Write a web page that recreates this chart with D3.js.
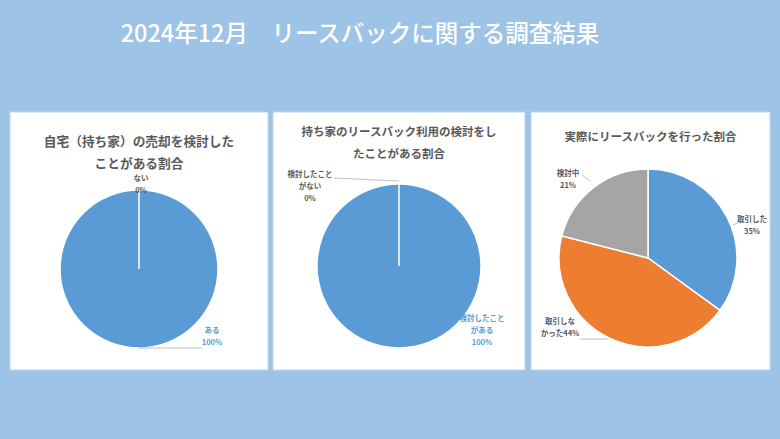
<!DOCTYPE html>
<html lang="ja">
<head>
    <meta charset="UTF-8">
    <title>2024年12月 リースバックに関する調査結果</title>
    <script src="https://d3js.org/d3.v7.min.js"></script>
    <style>
        html, body { margin: 0; padding: 0; background: #9dc3e6; }
        body { font-family: "Noto Sans CJK JP", "Noto Sans", sans-serif; }
    </style>
</head>
<body>
    <div id="chart"></div>
    <script>
        // data
        const mainTitle = "2024年12月\u3000リースバックに関する調査結果";

        const chart1Title = ["自宅（持ち家）の売却を検討した", "ことがある割合"];
        const chart1Labels = [["ある", "100%"], ["ない", "0%"]];
        const chart1Values = [100, 0];

        const chart2Title = ["持ち家のリースバック利用の検討をし", "たことがある割合"];
        const chart2Labels = [["検討したこと", "がある", "100%"], ["検討したこと", "がない", "0%"]];
        const chart2Values = [100, 0];

        const chart3Title = ["実際にリースバックを行った割合"];
        const chart3Labels = [["取引した", "35%"], ["取引しな", "かった44%"], ["検討中", "21%"]];
        const chart3Values = [35, 44, 21];

        const colors = ["#5b9bd5", "#ed7d31", "#a5a5a5"];

        const W = 780, H = 439;
        const svg = d3.select("#chart").append("svg")
            .attr("width", W).attr("height", H);

        svg.append("rect").attr("width", W).attr("height", H).attr("fill", "#9dc3e6");

        svg.append("text")
            .attr("x", 360).attr("y", 42)
            .attr("text-anchor", "middle")
            .attr("fill", "#fff")
            .attr("font-size", 23.5)
            .attr("font-weight", 500)
            .text(mainTitle);

        // panel layout (positions only)
        const panels = [
            {
                x: 10, w: 258, cx: 139, cy: 269, r: 79,
                title: chart1Title, titleSize: 12.7, titleY: [146, 168],
                values: chart1Values, labels: chart1Labels,
                labelPos: [{ x: 73, y: 64, color: "#5b9bd5" }, { x: 2, y: -88, color: "#595959" }],
                leaders: [[[0, 79], [63, 79]], null]
            },
            {
                x: 273, w: 252, cx: 399, cy: 266, r: 82,
                title: chart2Title, titleSize: 11.5, titleY: [136, 158],
                values: chart2Values, labels: chart2Labels,
                labelPos: [{ x: 83, y: 55, color: "#5b9bd5" }, { x: -89, y: -89, color: "#595959" }],
                leaders: [null, [[-65, -88], [0, -85]]]
            },
            {
                x: 531, w: 239, cx: 648, cy: 258, r: 89,
                title: chart3Title, titleSize: 11.5, titleY: [141],
                values: chart3Values, labels: chart3Labels,
                labelPos: [{ x: 104, y: -36, color: "#595959" }, { x: -88, y: 66, color: "#595959" },
                           { x: -80, y: -82, color: "#595959" }],
                leaders: [[[85, -33], [90, -35]], [[-68, 81], [-40, 81]], [[-66, -83], [-58, -77]]]
            }
        ];

        const pie = d3.pie().sort(null).value(d => d);

        panels.forEach(p => {
            const g = svg.append("g");
            g.append("rect")
                .attr("x", p.x).attr("y", 112)
                .attr("width", p.w).attr("height", 258)
                .attr("fill", "#fff")
                .attr("stroke", "#bdd7ee").attr("stroke-width", 1);

            p.title.forEach((t, i) => {
                g.append("text")
                    .attr("x", p.x + p.w / 2).attr("y", p.titleY[i])
                    .attr("text-anchor", "middle")
                    .attr("fill", "#595959")
                    .attr("font-size", p.titleSize)
                    .attr("font-weight", "bold")
                    .text(t);
            });

            const arc = d3.arc().innerRadius(0).outerRadius(p.r);
            const pg = g.append("g").attr("transform", `translate(${p.cx},${p.cy})`);

            pg.selectAll("path")
                .data(pie(p.values))
                .enter().append("path")
                .attr("d", arc)
                .attr("fill", (d, i) => colors[i])
                .attr("stroke", "#fff")
                .attr("stroke-width", 1.5);

            p.leaders.forEach(l => {
                if (!l) return;
                pg.append("path")
                    .attr("d", d3.line()(l))
                    .attr("fill", "none")
                    .attr("stroke", "#bfbfbf")
                    .attr("stroke-width", 1);
            });

            p.labels.forEach((lines, i) => {
                const lp = p.labelPos[i];
                lines.forEach((t, j) => {
                    pg.append("text")
                        .attr("x", lp.x).attr("y", lp.y + j * 12)
                        .attr("text-anchor", "middle")
                        .attr("fill", lp.color)
                        .attr("font-size", 7.5)
                        .attr("font-weight", "bold")
                        .text(t);
                });
            });
        });
    </script>
</body>
</html>
